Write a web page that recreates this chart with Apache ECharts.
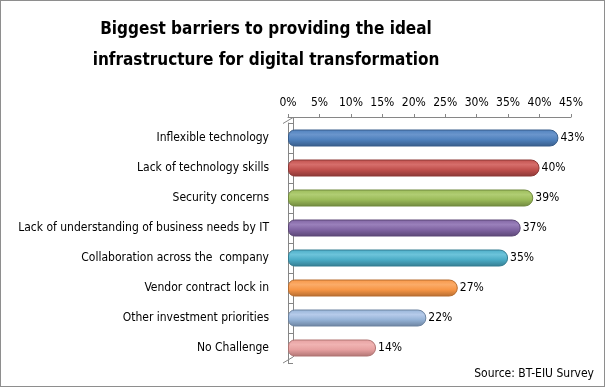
<!DOCTYPE html>
<html><head><meta charset="utf-8">
<script src="https://cdn.jsdelivr.net/npm/echarts@6/dist/echarts.min.js"></script>
<style>
html,body{margin:0;padding:0;background:#fff;}
#c{width:605px;height:387px;box-sizing:border-box;border:1px solid #8e8e8e;}
</style></head><body>
<div id="c"></div>
<script>
const titleLines = ["Biggest barriers to providing the ideal", "infrastructure for digital transformation"];
const categories = ["Inflexible technology","Lack of technology skills","Security concerns","Lack of understanding of business needs by IT","Collaboration across the  company","Vendor contract lock in","Other investment priorities","No Challenge"];
const values = [43, 40, 39, 37, 35, 27, 22, 14];
const barColors = [
  ["#6a95cc","#4f81bd","#385d8a"],
  ["#d66e6b","#c0504d","#8c3836"],
  ["#b0cd73","#9bbb59","#71893f"],
  ["#9a80bb","#8064a2","#5c4776"],
  ["#6cc3da","#4bacc6","#357d91"],
  ["#fbab68","#f79646","#b66d31"],
  ["#b6cbea","#95b3d7","#6c83a0"],
  ["#f0b3b2","#e6a0a0","#b07473"]
];
const xTicks = {min:0, max:45, interval:5};
const source = "Source: BT-EIU Survey";
const FONT = "'Liberation Sans Narrow','DejaVu Sans Condensed','Liberation Sans',sans-serif";
const AXC = '#868686';

const chart = echarts.init(document.getElementById('c'));
const data = values.map((v,i)=>({
  value:v,
  itemStyle:{
    color:{type:'linear',x:0,y:0,x2:0,y2:1,colorStops:[
      {offset:0,color:barColors[i][1]},
      {offset:0.3,color:barColors[i][0]},
      {offset:0.6,color:barColors[i][1]},
      {offset:1,color:barColors[i][2]}]},
    borderColor:barColors[i][2], borderWidth:1,
    borderRadius:[6,8,8,6]
  }
}));
chart.setOption({
  animation:false,
  title:{text:titleLines.join('\n'), left:260, textAlign:'center', top:8,
    textStyle:{fontFamily:FONT, fontWeight:'bold', fontSize:17, lineHeight:31, color:'#000'}},
  grid:{left:287, top:122, width:283, height:240, containLabel:false, outerBoundsMode:'none'},
  xAxis:{type:'value', position:'top', offset:6, min:xTicks.min, max:xTicks.max, interval:xTicks.interval,
    axisLine:{show:true, lineStyle:{color:AXC}},
    axisTick:{show:true, length:3, lineStyle:{color:AXC}},
    axisLabel:{formatter:'{value}%', margin:8, fontFamily:FONT, fontSize:12, color:'#000'},
    splitLine:{show:false}},
  yAxis:{type:'category', inverse:true, data:categories, offset:5,
    axisLine:{show:true, lineStyle:{color:AXC}},
    axisTick:{show:true, inside:true, length:5, lineStyle:{color:AXC}},
    axisLabel:{margin:14, fontFamily:FONT, fontSize:12, color:'#000'}},
  series:[{type:'bar', data:data, barWidth:17, z:5,
    label:{show:true, position:'right', distance:2, formatter:'{c}%', fontFamily:FONT, fontSize:12, color:'#000'}}]
});
// 3D wall edges anchored to the axes
const x0 = chart.convertToPixel({xAxisIndex:0}, 0);
const yTop = chart.convertToPixel({yAxisIndex:0}, categories[0]) - 15;
const yBot = chart.convertToPixel({yAxisIndex:0}, categories[categories.length-1]) + 15;
const front = x0 - 5, back = x0 + 5, topLine = yTop - 6;
chart.setOption({graphic:[
  {type:'text', right:10, bottom:6, style:{text:source, fontFamily:FONT, fontSize:12, fill:'#000'}},
  {type:'line', z:1, shape:{x1:back+0.5, y1:topLine, x2:back+0.5, y2:yBot-6}, style:{stroke:AXC, lineWidth:1}},
  {type:'line', z:1, shape:{x1:front, y1:yTop+0.5, x2:back, y2:topLine+0.5}, style:{stroke:AXC, lineWidth:1}},
  {type:'line', z:1, shape:{x1:front, y1:yBot, x2:back, y2:yBot-6}, style:{stroke:AXC, lineWidth:1}}
]});
</script></body></html>
